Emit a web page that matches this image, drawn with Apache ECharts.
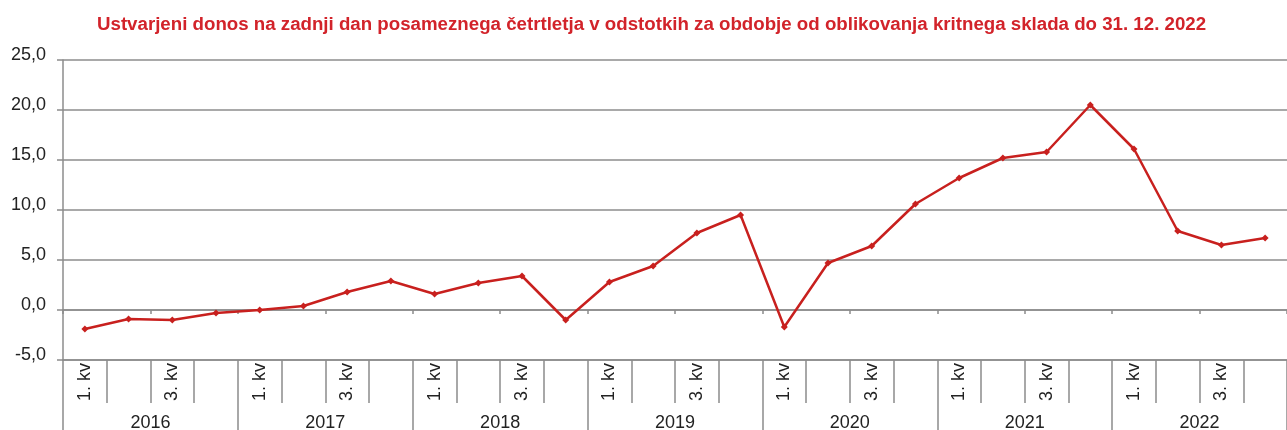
<!DOCTYPE html>
<html>
<head>
<meta charset="utf-8">
<script src="https://cdn.jsdelivr.net/npm/echarts@6/dist/echarts.min.js"></script>
<style>
    html, body { margin: 0; padding: 0; background: #fff; }
    #main { width: 1287px; height: 430px; }
</style>
</head>
<body>
<div id="main"></div>
<script>
    var years = ['2016', '2017', '2018', '2019', '2020', '2021', '2022'];
    var quarterNames = ['1. kv', '', '3. kv', ''];
    // donos v % na zadnji dan četrtletja
    var donos = [
        -1.9, -0.9, -1.0, -0.3,
        0.0, 0.4, 1.8, 2.9,
        1.6, 2.7, 3.4, -1.0,
        2.8, 4.4, 7.7, 9.5,
        -1.7, 4.7, 6.4, 10.6,
        13.2, 15.2, 15.8, 20.5,
        16.1, 7.9, 6.5, 7.2
    ];

    var quarters = [];
    for (var i = 0; i < years.length; i++) {
        for (var j = 0; j < quarterNames.length; j++) {
            quarters.push(years[i] + '-' + (j + 1));
        };
    };

    var gray = '#8c8c8c', font = 'Liberation Sans, Arial, sans-serif';
    var myChart = echarts.init(document.getElementById('main'));
    var option = {
        animation: false,
        title: {
            text: 'Ustvarjeni donos na zadnji dan posameznega četrtletja v odstotkih za obdobje od oblikovanja kritnega sklada do 31. 12. 2022',
            left: 92,
            top: 10,
            textStyle: { color: '#d2232a', fontSize: 18.7, fontWeight: 'bold', fontFamily: font }
        },
        grid: { left: 63, right: 0, top: 60, bottom: 70, outerBoundsMode: 'none' },
        xAxis: [{
            type: 'category',
            position: 'bottom',
            data: quarters,
            axisLine: { onZero: true, lineStyle: { color: gray, width: 1.5 } },
            axisTick: { show: true, length: 4, lineStyle: { color: gray, width: 1.5 } },
            axisLabel: { show: false }
        }, {
            type: 'category',
            position: 'bottom',
            data: quarters,
            axisLine: { onZero: false, lineStyle: { color: gray, width: 1.5 } },
            axisTick: { show: true, length: 43, lineStyle: { color: gray, width: 1.5 } },
            axisLabel: {
                rotate: 90, margin: 3, fontSize: 18, color: '#222', fontFamily: font,
                formatter: function (v) {
                    return quarterNames[parseInt(v.split('-')[1]) - 1];
                }
            }
        }, {
            type: 'category',
            position: 'bottom',
            data: years,
            axisLine: { onZero: false, show: false },
            axisTick: { show: true, length: 72, lineStyle: { color: gray, width: 1.5 } },
            axisLabel: { margin: 54, fontSize: 18, color: '#222', fontFamily: font }
        }],
        yAxis: {
            type: 'value',
            min: -5, max: 25, interval: 5,
            axisLine: { show: true, lineStyle: { color: gray, width: 1.5 } },
            axisTick: { show: true, length: 6, lineStyle: { color: gray, width: 1.5 } },
            axisLabel: {
                margin: 17, fontSize: 18, color: '#222', fontFamily: font,
                verticalAlign: 'bottom', lineHeight: 10,
                formatter: function (v) { return v.toFixed(1).replace('.', ','); }
            },
            splitLine: { lineStyle: { color: gray, width: 1.5 } }
        },
        series: [{
            type: 'line',
            xAxisIndex: 0,
            data: donos,
            symbol: 'diamond',
            symbolSize: 7,
            itemStyle: { color: '#c8201e' },
            lineStyle: { color: '#c8201e', width: 2.5 }
        }]
    };
    myChart.setOption(option);
</script>
</body>
</html>
